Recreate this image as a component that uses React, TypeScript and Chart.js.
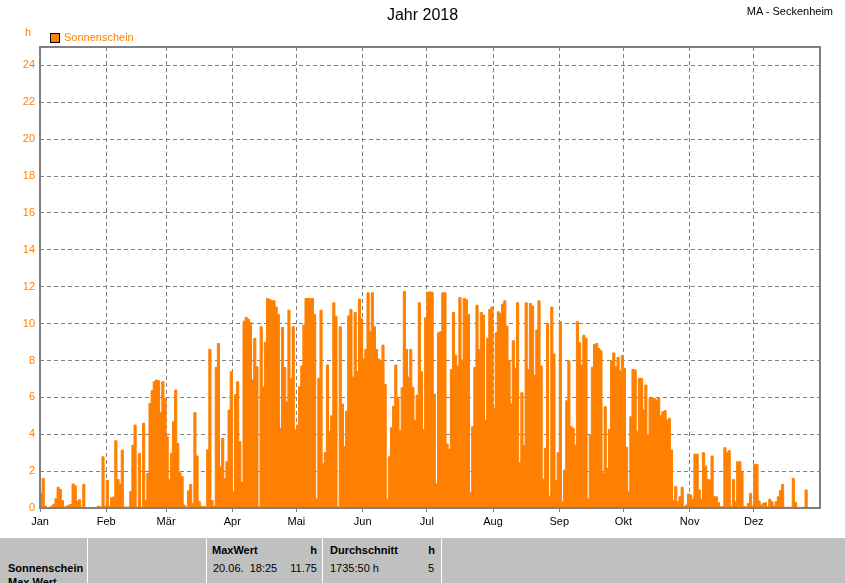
import React, { useEffect, useRef } from "react";
import { Chart, registerables } from "chart.js";

Chart.register(...registerables);

// Month labels (x axis) and y tick values
const monthLabels = ["Jan", "Feb", "Mär", "Apr", "Mai", "Jun", "Jul", "Aug", "Sep", "Okt", "Nov", "Dez"];
const yTicks = [0, 2, 4, 6, 8, 10, 12, 14, 16, 18, 20, 22, 24];

// Daily sunshine hours, one array per month
const jan = [0.8, 1.6, 0.1, 0, 0, 0.1, 0.2, 0.5, 1.12, 1.0, 0.4, 0.05, 0.1, 0.15, 0.2, 1.3, 1.2, 0.35, 0.45, 0.05, 1.28, 0, 0, 0, 0, 0, 0.05, 0.1, 0.05, 2.78, 0.1];
const feb = [1.5, 0.1, 0.55, 0.6, 3.65, 1.55, 1.3, 3.14, 0.05, 0.05, 0.05, 0.9, 3.4, 4.5, 0.05, 2.96, 0.05, 4.59, 0.4, 1.88, 5.67, 6.36, 6.85, 6.94, 6.9, 5.17, 6.85, 5.94];
const mar = [3.87, 1.55, 2.97, 4.68, 6.4, 3.5, 1.91, 1.7, 0.15, 0.05, 0.93, 1.28, 0.25, 5.17, 2.82, 0.35, 0.1, 0.07, 0.07, 3.15, 8.6, 0.4, 0.1, 7.63, 8.92, 2.24, 3.78, 1.6, 2.51, 5.31, 7.39];
const apr = [0.88, 6.15, 6.85, 3.6, 1.39, 10.13, 10.33, 10.23, 10.06, 6.94, 9.2, 7.66, 0.07, 9.83, 6.57, 9.0, 11.36, 11.31, 11.24, 11.24, 10.9, 10.5, 4.32, 9.79, 7.62, 5.76, 10.73, 7.03, 9.83, 4.23];
const mai = [4.5, 6.57, 7.7, 9.92, 11.36, 11.36, 11.36, 11.36, 10.5, 0.5, 7.03, 10.73, 2.4, 3.0, 7.75, 4.14, 5.0, 11.13, 10.4, 0.07, 9.83, 5.64, 3.33, 5.26, 10.42, 10.77, 7.1, 10.6, 7.4, 11.33, 10.26];
const jun = [8.08, 8.6, 11.67, 9.56, 11.67, 9.83, 8.6, 8.08, 8.0, 8.83, 6.7, 0.47, 2.78, 4.36, 5.53, 7.75, 5.94, 4.2, 6.52, 11.75, 8.6, 7.1, 8.6, 6.54, 4.74, 6.12, 11.13, 7.39, 4.26, 10.32];
const jul = [11.7, 11.72, 11.7, 6.18, 1.3, 9.5, 9.56, 11.67, 11.67, 3.47, 3.18, 7.51, 10.6, 8.29, 7.7, 11.42, 8.02, 11.36, 11.3, 10.5, 0.83, 4.41, 7.62, 11.0, 8.6, 10.6, 10.46, 4.77, 9.2, 10.77, 10.9];
const aug = [5.4, 9.5, 10.64, 10.55, 11.06, 11.24, 9.86, 8.0, 5.64, 9.07, 7.57, 11.13, 2.46, 6.25, 3.4, 11.13, 7.51, 11.09, 10.95, 7.2, 9.65, 11.24, 7.7, 1.56, 3.24, 10.01, 0.65, 10.9, 8.35, 1.49, 3.0];
const sep = [10.1, 0.34, 2.06, 5.82, 7.98, 4.41, 4.32, 3.41, 10.1, 8.96, 7.75, 9.37, 9.2, 0.5, 3.96, 7.63, 8.87, 8.92, 8.65, 8.53, 1.9, 5.49, 2.15, 4.26, 7.98, 8.41, 7.66, 8.17, 7.44, 8.26];
const okt = [7.57, 3.3, 0.88, 4.95, 7.51, 7.48, 4.14, 7.03, 7.03, 5.31, 6.67, 3.96, 5.94, 5.98, 5.94, 5.85, 5.98, 5.0, 5.22, 5.28, 4.77, 4.86, 3.14, 0.4, 1.16, 0.34, 0.61, 1.12, 0.07, 0.16, 0.76];
const nov = [0.7, 0.47, 2.92, 2.92, 0.98, 0.47, 3.0, 2.27, 1.55, 1.52, 2.82, 0.61, 0.61, 0.29, 0.07, 0.07, 3.27, 3.0, 3.11, 0.1, 1.55, 0.33, 2.51, 2.51, 1.94, 0.07, 0.07, 0.25, 0.79, 0.11];
const dez = [2.37, 2.37, 0.38, 0.16, 0.25, 0.29, 0.07, 0.47, 0.34, 0.11, 0.34, 0.61, 0.94, 1.28, 0.04, 0.04, 0.04, 0.04, 1.61, 0.31, 0.04, 0, 0, 0.04, 0.98, 0.02, 0.02, 0.02, 0.02, 0.02, 0.02];

const months = [jan, feb, mar, apr, mai, jun, jul, aug, sep, okt, nov, dez];
const daily: number[] = months.flat();
const monthStarts: number[] = [];
{
  let acc = 0;
  for (const m of months) {
    monthStarts.push(acc);
    acc += m.length;
  }
}

const ORANGE = "#ff8000";
const GRID = "#808080";
const FONT = "'Liberation Sans', Arial, sans-serif";

const framePlugin = {
  id: "frame",
  afterDatasetsDraw(chart: any) {
    const { ctx, chartArea } = chart;
    const { left, top, right, bottom } = chartArea;
    ctx.save();
    ctx.strokeStyle = GRID;
    ctx.lineWidth = 2;
    ctx.strokeRect(left, top, right - left, bottom - top);
    ctx.restore();
  },
};

export default function App() {
  const ref = useRef<HTMLCanvasElement | null>(null);

  useEffect(() => {
    if (!ref.current) return;
    Chart.defaults.font.family = FONT;
    Chart.defaults.font.size = 11;
    const points = daily.map((v, i) => ({ x: i, y: v }));
    points.push({ x: daily.length, y: daily[daily.length - 1] });

    const chart = new Chart(ref.current, {
      type: "line",
      data: {
        datasets: [
          {
            label: "Sonnenschein",
            data: points,
            stepped: "before",
            fill: "origin",
            backgroundColor: ORANGE,
            borderColor: ORANGE,
            borderWidth: 1,
            pointRadius: 0,
            tension: 0,
          },
        ],
      },
      options: {
        animation: false,
        responsive: false,
        events: [],
        layout: { padding: { top: 47, right: 25, left: 0, bottom: 0 } },
        plugins: {
          legend: { display: false },
          title: { display: false },
          tooltip: { enabled: false },
        },
        scales: {
          x: {
            type: "linear",
            min: 0,
            max: daily.length,
            afterBuildTicks: (s: any) => {
              s.ticks = monthStarts.map((v) => ({ value: v }));
            },
            afterFit: (s: any) => {
              s.height = 30;
            },
            ticks: {
              autoSkip: false,
              maxRotation: 0,
              color: "#000",
              padding: 3,
              font: { size: 11, family: FONT },
              callback: (v: any) => {
                const i = monthStarts.indexOf(Number(v));
                return i >= 0 ? monthLabels[i] : "";
              },
            },
            grid: {
              color: GRID,
              lineWidth: 1,
              drawTicks: true,
              tickLength: 4,
              tickColor: GRID,
              tickBorderDash: [],
            },
            border: { display: false, dash: [4, 3] },
          },
          y: {
            min: 0,
            max: 25,
            afterBuildTicks: (s: any) => {
              s.ticks = yTicks.map((v) => ({ value: v }));
            },
            afterFit: (s: any) => {
              s.width = 40;
            },
            ticks: {
              color: ORANGE,
              padding: 5,
              font: { size: 11, family: FONT },
              callback: (v: any) => String(v),
            },
            grid: { color: GRID, lineWidth: 1, drawTicks: false },
            border: { display: false, dash: [4, 3] },
          },
        },
      },
      plugins: [framePlugin],
    });
    return () => chart.destroy();
  }, []);

  const txt: React.CSSProperties = {
    position: "absolute",
    fontFamily: FONT,
    fontSize: 11,
    lineHeight: "13px",
    whiteSpace: "pre",
    color: "#000",
  };
  const bold: React.CSSProperties = { ...txt, fontWeight: "bold" };
  const vline = (x: number): React.CSSProperties => ({
    position: "absolute",
    left: x,
    top: 0,
    width: 1,
    height: 45,
    background: "#ffffff",
  });

  return (
    <div style={{ position: "absolute", left: 0, top: 0, width: 845, height: 583, overflow: "hidden", background: "#fff" }}>
      <canvas ref={ref} width={845} height={538} style={{ position: "absolute", left: 0, top: 0 }} />
      <div style={{ ...txt, fontSize: 16, lineHeight: "18px", left: 0, width: 845, top: 6, textAlign: "center" }}>Jahr 2018</div>
      <div style={{ ...txt, right: 12, top: 5 }}>MA - Seckenheim</div>
      <div style={{ ...txt, left: 25, top: 26, color: ORANGE }}>h</div>
      <div
        style={{
          position: "absolute",
          left: 50,
          top: 33,
          width: 8,
          height: 8,
          background: ORANGE,
          border: "1px solid #000",
        }}
      />
      <div style={{ ...txt, left: 64, top: 31, color: ORANGE }}>Sonnenschein</div>

      <div style={{ position: "absolute", left: 0, top: 538, width: 845, height: 45, background: "#c0c0c0", overflow: "hidden" }}>
        <div style={vline(87)} />
        <div style={vline(206)} />
        <div style={vline(322)} />
        <div style={vline(441)} />
        <div style={{ ...bold, left: 8, top: 24 }}>Sonnenschein</div>
        <div style={{ ...bold, left: 8, top: 38 }}>Max Wert</div>
        <div style={{ ...bold, left: 212, top: 6 }}>MaxWert</div>
        <div style={{ ...bold, left: 300, width: 17, top: 6, textAlign: "right" }}>h</div>
        <div style={{ ...bold, left: 330, top: 6 }}>Durchschnitt</div>
        <div style={{ ...bold, left: 420, width: 15, top: 6, textAlign: "right" }}>h</div>
        <div style={{ ...txt, left: 213, top: 24 }}>20.06.  18:25</div>
        <div style={{ ...txt, left: 280, width: 37, top: 24, textAlign: "right" }}>11.75</div>
        <div style={{ ...txt, left: 330, top: 24 }}>1735:50 h</div>
        <div style={{ ...txt, left: 420, width: 14, top: 24, textAlign: "right" }}>5</div>
      </div>
    </div>
  );
}
